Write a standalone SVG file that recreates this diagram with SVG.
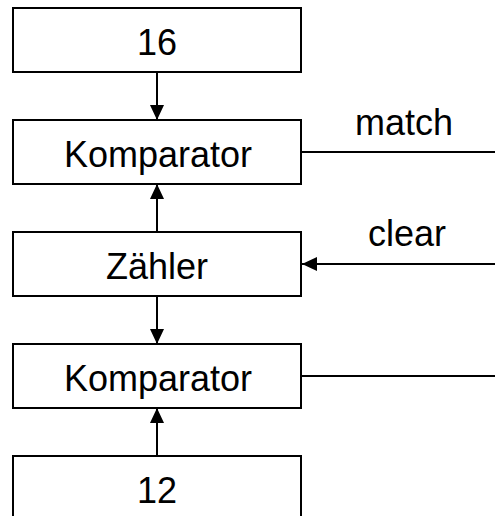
<svg xmlns="http://www.w3.org/2000/svg" width="495" height="516" viewBox="0 0 495 516">
<defs>
<style>
.box{fill:#fff;stroke:#000;stroke-width:2}
.t{font-family:"Liberation Sans",Arial,sans-serif;font-size:36px;fill:#000;text-anchor:middle}
.ln{stroke:#000;stroke-width:2;fill:none}
</style>
<marker id="ah" viewBox="0 0 15 14" refX="15" refY="7" markerWidth="15" markerHeight="14" markerUnits="userSpaceOnUse" orient="auto">
<path d="M0,0 L15,7 L0,14 Z" fill="#000"/>
</marker>
</defs>
<g id="n16"><rect class="box" x="13" y="8" width="288" height="64"/><text class="t" x="157" y="55">16</text></g>
<g id="komp1"><rect class="box" x="13" y="120" width="288" height="64"/><text class="t" x="158" y="167">Komparator</text></g>
<g id="zaehler"><rect class="box" x="13" y="232" width="288" height="64"/><text class="t" x="157" y="279">Zähler</text></g>
<g id="komp2"><rect class="box" x="13" y="344" width="288" height="64"/><text class="t" x="158" y="391">Komparator</text></g>
<g id="n12"><rect class="box" x="13" y="456" width="288" height="64"/><text class="t" x="157" y="503">12</text></g>
<g id="connectors">
<line class="ln" x1="157" y1="72" x2="157" y2="120" marker-end="url(#ah)"/>
<line class="ln" x1="157" y1="232" x2="157" y2="184" marker-end="url(#ah)"/>
<line class="ln" x1="157" y1="296" x2="157" y2="344" marker-end="url(#ah)"/>
<line class="ln" x1="157" y1="456" x2="157" y2="408" marker-end="url(#ah)"/>
<line class="ln" x1="301" y1="152" x2="495" y2="152"/>
<line class="ln" x1="495" y1="264" x2="302" y2="264" marker-end="url(#ah)"/>
<line class="ln" x1="301" y1="376" x2="495" y2="376"/>
<text class="t" x="404" y="135">match</text>
<text class="t" x="407" y="246">clear</text>
</g>
</svg>
